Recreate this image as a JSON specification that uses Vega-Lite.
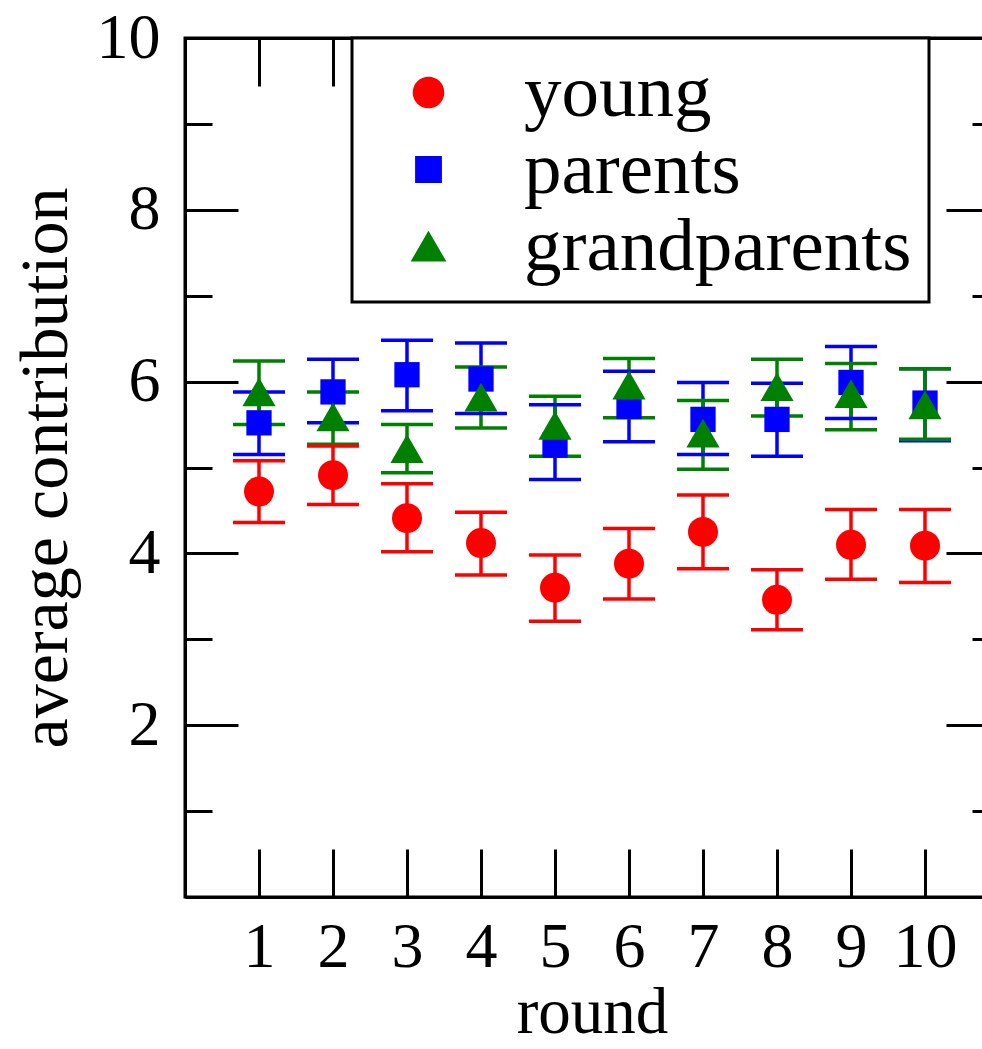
{
  "$schema": "https://vega.github.io/schema/vega-lite/v6.json",
  "width": 814,
  "height": 859,
  "autosize": "none",
  "padding": {"left": 185, "top": 38, "right": 0, "bottom": 152},
  "background": "white",
  "config": {
    "view": {"stroke": "black", "strokeWidth": 3},
    "legend": {"strokeWidth": 3, "symbolOpacity": 1},
    "axis": {
      "domainColor": "black", "domainWidth": 3, "tickColor": "black", "tickWidth": 3,
      "labelFont": "Liberation Serif", "labelColor": "black", "labelFontSize": 64,
      "titleFont": "Liberation Serif", "titleColor": "black", "titleFontWeight": "normal",
      "grid": false
    }
  },
  "data": {"values": [
    {"round": 1, "group": "young", "mean": 4.72, "lo": 4.36, "hi": 5.08},
    {"round": 2, "group": "young", "mean": 4.91, "lo": 4.57, "hi": 5.25},
    {"round": 3, "group": "young", "mean": 4.41, "lo": 4.02, "hi": 4.81},
    {"round": 4, "group": "young", "mean": 4.12, "lo": 3.75, "hi": 4.48},
    {"round": 5, "group": "young", "mean": 3.60, "lo": 3.21, "hi": 3.98},
    {"round": 6, "group": "young", "mean": 3.88, "lo": 3.47, "hi": 4.29},
    {"round": 7, "group": "young", "mean": 4.25, "lo": 3.82, "hi": 4.68},
    {"round": 8, "group": "young", "mean": 3.46, "lo": 3.11, "hi": 3.81},
    {"round": 9, "group": "young", "mean": 4.10, "lo": 3.70, "hi": 4.51},
    {"round": 10, "group": "young", "mean": 4.09, "lo": 3.66, "hi": 4.51},
    {"round": 1, "group": "parents", "mean": 5.52, "lo": 5.15, "hi": 5.88},
    {"round": 2, "group": "parents", "mean": 5.88, "lo": 5.52, "hi": 6.26},
    {"round": 3, "group": "parents", "mean": 6.08, "lo": 5.66, "hi": 6.48},
    {"round": 4, "group": "parents", "mean": 6.03, "lo": 5.63, "hi": 6.45},
    {"round": 5, "group": "parents", "mean": 5.26, "lo": 4.86, "hi": 5.73},
    {"round": 6, "group": "parents", "mean": 5.71, "lo": 5.30, "hi": 6.12},
    {"round": 7, "group": "parents", "mean": 5.56, "lo": 5.15, "hi": 5.99},
    {"round": 8, "group": "parents", "mean": 5.56, "lo": 5.13, "hi": 5.98},
    {"round": 9, "group": "parents", "mean": 5.99, "lo": 5.57, "hi": 6.41},
    {"round": 10, "group": "parents", "mean": 5.75, "lo": 5.31, "hi": 6.15},
    {"round": 1, "group": "grandparents", "mean": 5.88, "lo": 5.50, "hi": 6.24},
    {"round": 2, "group": "grandparents", "mean": 5.59, "lo": 5.27, "hi": 5.88},
    {"round": 3, "group": "grandparents", "mean": 5.22, "lo": 4.94, "hi": 5.50},
    {"round": 4, "group": "grandparents", "mean": 5.82, "lo": 5.46, "hi": 6.17},
    {"round": 5, "group": "grandparents", "mean": 5.49, "lo": 5.13, "hi": 5.83},
    {"round": 6, "group": "grandparents", "mean": 5.96, "lo": 5.58, "hi": 6.27},
    {"round": 7, "group": "grandparents", "mean": 5.40, "lo": 4.98, "hi": 5.78},
    {"round": 8, "group": "grandparents", "mean": 5.94, "lo": 5.60, "hi": 6.26},
    {"round": 9, "group": "grandparents", "mean": 5.86, "lo": 5.44, "hi": 6.21},
    {"round": 10, "group": "grandparents", "mean": 5.73, "lo": 5.33, "hi": 6.15}
  ]},
  "layer": [
    {
      "mark": {"type": "rule", "strokeWidth": 3.5, "opacity": 1},
      "encoding": {
        "x": {"field": "round", "type": "quantitative", "scale": {"domain": [0, 11], "nice": false, "zero": false},
          "axis": {"orient": "bottom", "values": [1,2,3,4,5,6,7,8,9,10], "tickSize": -48, "labelPadding": 66,
            "title": "round", "titleFontSize": 65, "titlePadding": 2}},
        "y": {"field": "lo", "type": "quantitative", "scale": {"domain": [0, 10], "nice": false, "zero": false},
          "axis": {"orient": "left", "values": [1,2,3,4,5,6,7,8,9,10],
            "tickSize": {"condition": {"test": "datum.value % 2 === 0", "value": -53}, "value": -27},
            "labelPadding": 78,
            "labelExpr": "datum.value % 2 === 0 ? datum.label : ''",
            "title": "average contribution", "titleFontSize": 68, "titlePadding": 16}},
        "y2": {"field": "hi"},
        "color": {"field": "group", "type": "nominal",
          "scale": {"domain": ["young", "parents", "grandparents"], "range": ["#ff0000", "#0000ff", "#008000"]}}
      }
    },
    {
      "mark": {"type": "tick", "orient": "horizontal", "size": 52, "thickness": 3.5, "opacity": 1},
      "encoding": {
        "x": {"field": "round", "type": "quantitative", "scale": {"domain": [0, 11], "nice": false, "zero": false},
          "axis": {"orient": "top", "values": [1,2,3,4,5,6,7,8,9,10], "tickSize": -48, "labels": false, "title": null}},
        "y": {"field": "lo", "type": "quantitative", "scale": {"domain": [0, 10], "nice": false, "zero": false},
          "axis": {"orient": "right", "values": [1,2,3,4,5,6,7,8,9],
            "tickSize": {"condition": {"test": "datum.value % 2 === 0", "value": -53}, "value": -27},
            "labels": false, "title": null}},
        "color": {"field": "group", "type": "nominal"}
      }
    },
    {
      "mark": {"type": "tick", "orient": "horizontal", "size": 52, "thickness": 3.5, "opacity": 1},
      "encoding": {
        "x": {"field": "round", "type": "quantitative", "axis": null},
        "y": {"field": "hi", "type": "quantitative", "axis": null},
        "color": {"field": "group", "type": "nominal"}
      }
    },
    {
      "mark": {"type": "point", "filled": true, "opacity": 1},
      "encoding": {
        "x": {"field": "round", "type": "quantitative", "axis": null},
        "y": {"field": "mean", "type": "quantitative", "axis": null},
        "color": {"field": "group", "type": "nominal",
          "scale": {"domain": ["young", "parents", "grandparents"], "range": ["#ff0000", "#0000ff", "#008000"]},
          "legend": {"orient": "none", "legendX": 167, "legendY": 0, "title": null,
            "strokeColor": "black", "fillColor": "white", "padding": 17,
            "labelFont": "Liberation Serif", "labelFontSize": 75, "labelColor": "black", "labelLimit": 0,
            "labelOffset": 58, "symbolOffset": 22, "rowPadding": 1, "symbolOpacity": 1,
            "encode": {"symbols": {"update": {"opacity": {"value": 1}, "fillOpacity": {"value": 1}}}}}},
        "shape": {"field": "group", "type": "nominal",
          "scale": {"domain": ["young", "parents", "grandparents"], "range": ["circle", "square", "triangle-up"]}},
        "size": {"field": "group", "type": "nominal",
          "scale": {"type": "ordinal", "domain": ["young", "parents", "grandparents"], "range": [900, 640, 1100]}}
      }
    }
  ],
  "resolve": {"axis": {"x": "independent", "y": "independent"}}
}
